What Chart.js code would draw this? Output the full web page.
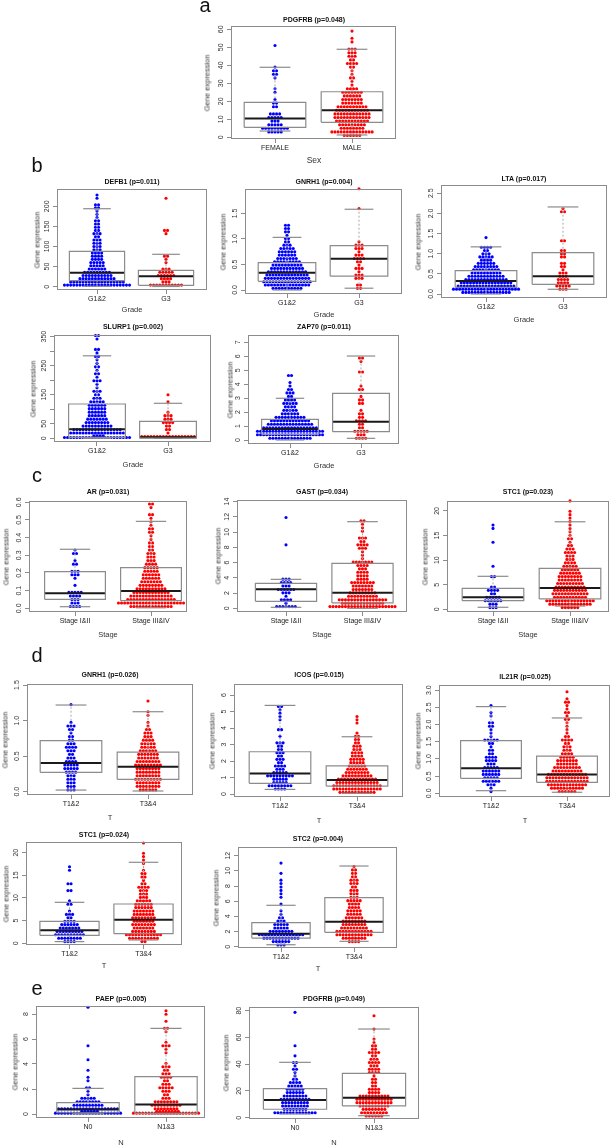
<!DOCTYPE html>
<html><head><meta charset="utf-8">
<script src="https://cdn.jsdelivr.net/npm/chart.js@4.4.1/dist/chart.umd.min.js"></script>
<style>
html,body{margin:0;padding:0;background:#fff;}
body{width:615px;height:1145px;position:relative;overflow:hidden;font-family:"Liberation Sans",Arial,sans-serif;}
canvas{position:absolute;}
.t{position:absolute;white-space:nowrap;line-height:1;transform:translate(-50%,-50%);color:#222;will-change:transform;-webkit-font-smoothing:antialiased;}
</style></head><body>
<script>
// ---------------- DATA ----------------
const SEX_CATS = ['FEMALE', 'MALE'];
const GRADE_CATS = ['G1&2', 'G3'];
const STAGE_CATS = ['Stage I&II', 'Stage III&IV'];
const T_CATS = ['T1&2', 'T3&4'];
const N_CATS = ['N0', 'N1&3'];

// counts of points per value bin (bin i covers [i*bin, (i+1)*bin)), read from the swarms
// stats = [lower whisker, Q1, median, Q3, upper whisker]
const PDGFRB_SEX_BIN = 2;
const PDGFRB_FEMALE = [0,5,9,5,3,5,4,0,2,2,1,0,1,1,0,0,1,2,2,1,0,0,0,0,0,1];
const PDGFRB_MALE = [6,14,8,9,11,12,12,11,10,7,7,6,7,4,1,1,2,1,1,2,4,2,3,3,3,0,1,1,0,1];
const PDGFRB_FEMALE_STATS = [3.5, 5.5, 10.5, 19.4, 38.9];
const PDGFRB_MALE_STATS = [1.3, 8.3, 15, 25.3, 48.9];
const PDGFRB_SEX_TICKS = [0,10,20,30,40,50,60];

const DEFB1_BIN = 8;
const DEFB1_G12 = [22,18,12,10,9,6,5,5,4,4,4,3,3,3,3,2,3,2,2,2,2,1,1,1,2,2,0,1,1];
const DEFB1_G3 = [11,3,4,6,5,3,0,1,1,2,0,0,0,0,0,0,1,2,0,0,0,0,0,0,0,0,0,1];
const DEFB1_G12_STATS = [1, 15, 34.8, 88, 194];
const DEFB1_G3_STATS = [0.5, 3.5, 25.9, 40.8, 80.6];
const DEFB1_TICKS = [0,50,100,150,200];

const GNRH1_GRADE_BIN = 0.065;
const GNRH1_G12 = [10,15,16,15,14,13,11,10,9,7,6,6,5,3,2,2,1,2,2,2];
const GNRH1_G3 = [2,2,0,3,3,1,3,1,2,4,3,1,3,3,1,0,0,0,0,0,0,0,0,0,1,0,0,0,0,0,1];
const GNRH1_G12_STATS = [0, 0.17, 0.34, 0.535, 1.03];
const GNRH1_G3_STATS = [0.035, 0.27, 0.61, 0.867, 1.58];
const GNRH1_GRADE_TICKS = [0,0.5,1,1.5];

const LTA_BIN = 0.08;
const LTA_G12 = [16,22,19,17,14,12,10,9,8,6,4,5,3,2,4,0,0,1];
const LTA_G3 = [0,3,5,4,4,3,3,1,2,2,0,2,2,2,0,0,2,0,0,0,0,0,0,0,0,2,1];
const LTA_G12_STATS = [0, 0.166, 0.32, 0.58, 1.17];
const LTA_G3_STATS = [0.117, 0.24, 0.44, 1.025, 2.16];
const LTA_TICKS = [0,0.5,1,1.5,2,2.5];

const SLURP1_BIN = 12;
const SLURP1_G12 = [26,18,16,10,8,7,6,6,6,6,5,3,2,3,1,1,3,1,2,1,2,1,1,2,1,2,0,0,1,2];
const SLURP1_G3 = [18,1,2,2,4,3,3,1,0,0,1,0,1];
const SLURP1_G12_STATS = [0, 3.4, 31, 118, 284];
const SLURP1_G3_STATS = [0, 0.5, 3.4, 58.5, 120.5];
const SLURP1_TICKS = [0,50,100,150,200,250,300,350];
const SLURP1_TICK_LABELS = [0,50,150,250,350];

const ZAP70_BIN = 0.25;
const ZAP70_G12 = [14,22,22,18,15,13,10,6,5,4,5,4,2,3,2,1,1,0,2];
const ZAP70_G3 = [4,3,5,2,2,4,2,2,1,0,2,2,1,0,2,1,0,0,0,2,0,0,1,2];
const ZAP70_G12_STATS = [0, 0.41, 0.79, 1.48, 2.99];
const ZAP70_G3_STATS = [0.12, 0.6, 1.31, 3.34, 6.02];
const ZAP70_TICKS = [0,1,2,3,4,5,6,7];

const AR_BIN = 0.02;
const AR_S12 = [4,3,3,4,5,0,1,0,1,3,3,0,2,1,0,2,1];
const AR_S34 = [14,22,16,14,12,10,8,7,6,6,5,5,4,3,3,3,2,2,2,1,1,2,2,1,1,1,2,0,1,2];
const AR_S12_STATS = [0.009, 0.051, 0.085, 0.207, 0.334];
const AR_S34_STATS = [0.003, 0.043, 0.098, 0.23, 0.492];
const AR_TICKS = [0,0.1,0.2,0.3,0.4,0.5,0.6];

const GAST_BIN = 0.45;
const GAST_S12 = [7,1,4,1,3,6,3,4,3,0,0,0,0,0,0,0,0,0,1,0,0,0,0,0,0,0,1];
const GAST_S34 = [22,14,16,10,9,7,7,8,4,4,4,3,4,7,1,1,1,3,4,2,3,0,1,1,1,2];
const GAST_S12_STATS = [0.13, 0.92, 2.49, 3.28, 3.8];
const GAST_S34_STATS = [0, 0.7, 2.05, 5.9, 11.37];
const GAST_TICKS = [0,2,4,6,8,10,12,14];

const STC1_STAGE_BIN = 0.7;
const STC1_S12 = [3,3,6,5,2,4,2,0,0,2,0,0,1,0,0,0,0,0,0,1,0,0,0,1,1];
const STC1_S34 = [6,14,16,11,12,11,10,9,8,8,7,6,5,4,3,3,4,3,2,1,2,1,1,1,1,1,1,1,1,0,0,1];
const STC1_S12_STATS = [0.41, 1.75, 2.44, 4.27, 6.71];
const STC1_S34_STATS = [0.67, 2.1, 4.33, 8.34, 17.8];
const STC1_STAGE_TICKS = [0,5,10,15,20];

const GNRH1_T_BIN = 0.05;
const GNRH1_T12 = [3,3,3,3,3,4,5,5,4,3,2,3,4,3,2,2,1,2,3,1,0,0,0,0,1];
const GNRH1_T34 = [6,8,8,9,8,8,8,9,8,7,7,6,5,5,4,3,3,2,1,1,0,1,1,0,0,1];
const GNRH1_T12_STATS = [0.023, 0.273, 0.404, 0.717, 1.219];
const GNRH1_T34_STATS = [0.01, 0.174, 0.352, 0.558, 1.125];
const GNRH1_T_TICKS = [0,0.5,1,1.5];

const ICOS_BIN = 0.2;
const ICOS_T12 = [0,4,8,5,5,9,5,3,4,2,3,2,3,2,2,3,0,1,0,2,0,0,1,1,1,1,2];
const ICOS_T34 = [12,16,16,14,13,10,8,7,6,5,5,4,4,3,3,2,2,2,1,0,0,1,1,1];
const ICOS_T12_STATS = [0.28, 0.65, 1.25, 2.56, 5.37];
const ICOS_T34_STATS = [0.04, 0.48, 0.85, 1.7, 3.47];
const ICOS_TICKS = [0,1,2,3,4,5,6];

const IL21R_BIN = 0.1;
const IL21R_T12 = [1,1,3,6,5,6,6,5,3,4,4,2,2,1,2,5,1,1,1,2,2,0,1,1,0,1];
const IL21R_T34 = [6,11,13,14,14,13,10,9,7,7,5,4,3,3,2,4,2,1,1,1,1,2,1,2,1,1,2,1,0,1];
const IL21R_T12_STATS = [0.076, 0.436, 0.726, 1.53, 2.52];
const IL21R_T34_STATS = [0.03, 0.32, 0.55, 1.08, 2.19];
const IL21R_TICKS = [0,0.5,1,1.5,2,2.5,3];

const STC1_T_BIN = 0.75;
const STC1_T12 = [4,8,10,9,7,6,4,2,3,1,0,2,1,0,0,2,0,2,0,0,0,1,1];
const STC1_T34 = [2,10,12,8,7,8,7,8,7,7,6,6,5,3,3,3,4,2,1,2,2,1,0,1,1,1,1,0,0,1];
const STC1_T12_STATS = [0.37, 1.76, 2.87, 4.85, 9.04];
const STC1_T34_STATS = [0.73, 2.12, 5.2, 8.67, 17.87];
const STC1_T_TICKS = [0,5,10,15,20];

const STC2_BIN = 0.45;
const STC2_T12 = [3,6,12,15,8,5,5,3,2,1,1,0,1,0,1,1,1,1,1,1,0,1,0,0,1];
const STC2_T34 = [0,4,8,12,12,9,8,8,6,5,5,4,4,5,3,3,3,2,3,3,2,2,2,1];
const STC2_T12_STATS = [0.26, 1.14, 1.72, 3.17, 5.46];
const STC2_T34_STATS = [0.71, 1.9, 3.3, 6.46, 10.64];
const STC2_TICKS = [0,2,4,6,8,10,12];

const PAEP_BIN = 0.28;
const PAEP_N0 = [28,20,10,8,5,1,1,2,0,1,1,0,1,0,0,1,0,0,0,1,0,0,0,0,0,0,0,0,0,0,1];
const PAEP_N13 = [30,8,10,8,3,2,3,5,3,2,4,3,2,3,1,0,0,1,1,3,1,0,0,1,2,0,1,0,1,1];
const PAEP_N0_STATS = [0.02, 0.1, 0.37, 0.91, 2.05];
const PAEP_N13_STATS = [0.01, 0.05, 0.77, 2.99, 6.85];
const PAEP_TICKS = [0,2,4,6,8];

const PDGFRB_N_BIN = 2.5;
const PDGFRB_N0 = [0,14,8,9,9,10,8,6,6,5,4,2,1,1,2,1,2,0,1,0,0,1,0,0,0,0,0,0,0,0,0,1];
const PDGFRB_N13 = [6,9,8,10,12,12,10,4,4,2,2,2,1,4,4,3,4,3,2,4,2,2,1,1,0,0,1,0,0,0,1];
const PDGFRB_N0_STATS = [2.8, 6.3, 13.2, 21.7, 41.4];
const PDGFRB_N13_STATS = [1.5, 8.8, 15, 33.2, 66.3];
const PDGFRB_N_TICKS = [0,20,40,60,80];

// ---------------- PANELS (content + layout in page pixels) ----------------
const PANELS = [
 {title:'PDGFRB (p=0.048)', cats:SEX_CATS, xTitle:'Sex', bin:PDGFRB_SEX_BIN, counts:[PDGFRB_FEMALE,PDGFRB_MALE], stats:[PDGFRB_FEMALE_STATS,PDGFRB_MALE_STATS], ticks:PDGFRB_SEX_TICKS, dec:0,
  L:231,T:26,R:396,B:139,c1:275,c2:352,y0:137.3,ppu:1.8,tx:313.5,ty:18.5,ylx:207,xty:159.5,xts:8.5},
 {title:'DEFB1 (p=0.011)', cats:GRADE_CATS, xTitle:'Grade', bin:DEFB1_BIN, counts:[DEFB1_G12,DEFB1_G3], stats:[DEFB1_G12_STATS,DEFB1_G3_STATS], ticks:DEFB1_TICKS, dec:0,
  L:57,T:189,R:207,B:290,c1:97,c2:166,y0:286.7,ppu:0.402,tx:132,ty:181,ylx:37,xty:309},
 {title:'GNRH1 (p=0.004)', cats:GRADE_CATS, xTitle:'Grade', bin:GNRH1_GRADE_BIN, counts:[GNRH1_G12,GNRH1_G3], stats:[GNRH1_G12_STATS,GNRH1_G3_STATS], ticks:GNRH1_GRADE_TICKS, dec:1,
  L:245,T:189,R:402,B:294,c1:287,c2:359,y0:290,ppu:51.1,tx:323.5,ty:181,ylx:223,xty:314},
 {title:'LTA (p=0.017)', cats:GRADE_CATS, xTitle:'Grade', bin:LTA_BIN, counts:[LTA_G12,LTA_G3], stats:[LTA_G12_STATS,LTA_G3_STATS], ticks:LTA_TICKS, dec:1,
  L:441,T:185,R:607,B:298,c1:486,c2:563,y0:294,ppu:40.3,tx:524,ty:177.5,ylx:418,xty:319},
 {title:'SLURP1 (p=0.002)', cats:GRADE_CATS, xTitle:'Grade', bin:SLURP1_BIN, counts:[SLURP1_G12,SLURP1_G3], stats:[SLURP1_G12_STATS,SLURP1_G3_STATS], ticks:SLURP1_TICKS, labels:SLURP1_TICK_LABELS, dec:0,
  L:54,T:335,R:211,B:442,c1:97,c2:168,y0:438.3,ppu:0.2905,tx:132.5,ty:325.7,ylx:33,xty:463.7},
 {title:'ZAP70 (p=0.011)', cats:GRADE_CATS, xTitle:'Grade', bin:ZAP70_BIN, counts:[ZAP70_G12,ZAP70_G3], stats:[ZAP70_G12_STATS,ZAP70_G3_STATS], ticks:ZAP70_TICKS, dec:0,
  L:248,T:335,R:399,B:444,c1:290,c2:361,y0:440,ppu:13.95,tx:323.5,ty:325.7,ylx:230,xty:465},
 {title:'AR (p=0.031)', cats:STAGE_CATS, xTitle:'Stage', bin:AR_BIN, counts:[AR_S12,AR_S34], stats:[AR_S12_STATS,AR_S34_STATS], ticks:AR_TICKS, dec:1,
  L:29,T:501,R:187,B:612,c1:75,c2:151,y0:608.3,ppu:176.7,tx:108,ty:491,ylx:6,xty:634},
 {title:'GAST (p=0.034)', cats:STAGE_CATS, xTitle:'Stage', bin:GAST_BIN, counts:[GAST_S12,GAST_S34], stats:[GAST_S12_STATS,GAST_S34_STATS], ticks:GAST_TICKS, dec:0,
  L:237,T:500,R:407,B:612,c1:286,c2:362.5,y0:608.3,ppu:7.62,tx:322,ty:491,ylx:218,xty:634},
 {title:'STC1 (p=0.023)', cats:STAGE_CATS, xTitle:'Stage', bin:STC1_STAGE_BIN, counts:[STC1_S12,STC1_S34], stats:[STC1_S12_STATS,STC1_S34_STATS], ticks:STC1_STAGE_TICKS, dec:0,
  L:447,T:501,R:609,B:612,c1:493,c2:570,y0:609.3,ppu:4.917,tx:528,ty:491,ylx:425,xty:634},
 {title:'GNRH1 (p=0.026)', cats:T_CATS, xTitle:'T', bin:GNRH1_T_BIN, counts:[GNRH1_T12,GNRH1_T34], stats:[GNRH1_T12_STATS,GNRH1_T34_STATS], ticks:GNRH1_T_TICKS, dec:1,
  L:27,T:684,R:193,B:795,c1:71,c2:148,y0:791.7,ppu:71.1,tx:110,ty:674,ylx:4.5,xty:817},
 {title:'ICOS (p=0.015)', cats:T_CATS, xTitle:'T', bin:ICOS_BIN, counts:[ICOS_T12,ICOS_T34], stats:[ICOS_T12_STATS,ICOS_T34_STATS], ticks:ICOS_TICKS, dec:0,
  L:234,T:684,R:403,B:797,c1:280,c2:357,y0:794,ppu:16.5,tx:318.5,ty:674,ylx:212,xty:820},
 {title:'IL21R (p=0.025)', cats:T_CATS, xTitle:'T', bin:IL21R_BIN, counts:[IL21R_T12,IL21R_T34], stats:[IL21R_T12_STATS,IL21R_T34_STATS], ticks:IL21R_TICKS, dec:1,
  L:439,T:685,R:610,B:797,c1:491,c2:567,y0:793.3,ppu:34.4,tx:524.5,ty:676,ylx:418,xty:820},
 {title:'STC1 (p=0.024)', cats:T_CATS, xTitle:'T', bin:STC1_T_BIN, counts:[STC1_T12,STC1_T34], stats:[STC1_T12_STATS,STC1_T34_STATS], ticks:STC1_T_TICKS, dec:0,
  L:26,T:842,R:182,B:945,c1:69.5,c2:143.5,y0:943.3,ppu:4.533,tx:104,ty:834,ylx:6,xty:965},
 {title:'STC2 (p=0.004)', cats:T_CATS, xTitle:'T', bin:STC2_BIN, counts:[STC2_T12,STC2_T34], stats:[STC2_T12_STATS,STC2_T34_STATS], ticks:STC2_TICKS, dec:0,
  L:238,T:847,R:397,B:948,c1:281,c2:354,y0:946.7,ppu:7.583,tx:317.5,ty:837.5,ylx:216,xty:967.5},
 {title:'PAEP (p=0.005)', cats:N_CATS, xTitle:'N', bin:PAEP_BIN, counts:[PAEP_N0,PAEP_N13], stats:[PAEP_N0_STATS,PAEP_N13_STATS], ticks:PAEP_TICKS, dec:0,
  L:36,T:1006,R:205,B:1118,c1:88,c2:166,y0:1114,ppu:12.5,tx:120.5,ty:997.5,ylx:15,xty:1141.5},
 {title:'PDGFRB (p=0.049)', cats:N_CATS, xTitle:'N', bin:PDGFRB_N_BIN, counts:[PDGFRB_N0,PDGFRB_N13], stats:[PDGFRB_N0_STATS,PDGFRB_N13_STATS], ticks:PDGFRB_N_TICKS, dec:0,
  L:249,T:1007,R:419,B:1119,c1:295,c2:374,y0:1117.7,ppu:1.3375,tx:334,ty:997.5,ylx:226,xty:1141.5}
];

const LETTERS = [['a',205,4.5],['b',36.7,165],['c',36.7,475],['d',36.7,655],['e',36.7,988]];

// ---------------- RENDER ----------------
const FONT = '"Liberation Sans", Arial, sans-serif';
const COLORS = ['#0000FF', '#FF0000'];
const GRAY = '#8c8c8c', MED = '#1a1a1a', WHISK = '#a8a8a8';
const YW = 16, XH = 16, PT = 4, PR = 4, MAX_ROW = 22, DOT_PX = 3.1;

function txt(s, x, y, css, rot) {
  const d = document.createElement('div');
  d.className = 't';
  d.textContent = s;
  d.style.cssText += css;
  d.style.left = x + 'px';
  d.style.top = y + 'px';
  if (rot) d.style.transform = 'translate(-50%,-50%) rotate(-90deg)';
  document.body.appendChild(d);
}

function swarm(counts, bin, center, dx) {
  const pts = [];
  counts.forEach((n, i) => {
    if (!n) return;
    const yc = (i + 0.5) * bin;
    const rows = [];
    let left = n;
    while (left > 0) { const k = Math.min(left, MAX_ROW); rows.push(k); left -= k; }
    rows.forEach((k, r) => {
      const y = rows.length > 1 ? yc + bin * 0.5 * (r / (rows.length - 1) - 0.5) : yc;
      const shift = (r % 2) ? 0.5 : 0;
      for (let j = 0; j < k; j++) pts.push({x: center + (j - (k - 1) / 2 + shift) * dx, y});
    });
  });
  return pts;
}

function seg(points, color, width, dash) {
  return {type:'scatter', showLine:true, data: points.map(([x, y]) => ({x, y})), borderColor: color,
    borderWidth: width, borderDash: dash || [], pointRadius: 0, fill: false, tension: 0, order: 1, clip: false};
}

function makePanel(P) {
  const W = P.R - P.L + YW + PR, H = P.B - P.T + PT + XH;
  const c = document.createElement('canvas');
  c.width = W; c.height = H;
  c.style.left = (P.L - YW) + 'px'; c.style.top = (P.T - PT) + 'px';
  c.style.width = W + 'px'; c.style.height = H + 'px';
  document.body.appendChild(c);

  const unitPx = P.c2 - P.c1;
  const xMin = 1 - (P.c1 - P.L) / unitPx, xMax = 2 + (P.R - P.c2) / unitPx;
  const yMin = -(P.B - P.y0) / P.ppu, yMax = (P.y0 - P.T) / P.ppu;
  const bh = 0.4, ch = 0.2;
  const datasets = [];
  [0, 1].forEach(g => {
    const cx = g + 1;
    const [lo, q1, med, q3, hi] = P.stats[g];
    datasets.push(seg([[cx-bh,q1],[cx+bh,q1],[cx+bh,q3],[cx-bh,q3],[cx-bh,q1]], GRAY, 1.2));
    datasets.push(seg([[cx-bh,med],[cx+bh,med]], MED, 2));
    datasets.push(seg([[cx,q3],[cx,hi]], WHISK, 1, [2,2]));
    datasets.push(seg([[cx,lo],[cx,q1]], WHISK, 1, [2,2]));
    datasets.push(seg([[cx-ch,hi],[cx+ch,hi]], GRAY, 1.2));
    datasets.push(seg([[cx-ch,lo],[cx+ch,lo]], GRAY, 1.2));
    datasets.push({type:'scatter', data: swarm(P.counts[g], P.bin, cx, DOT_PX / unitPx),
      pointRadius: 1.55, pointBackgroundColor: COLORS[g], pointBorderWidth: 0, borderWidth: 0, order: 2, clip: false});
  });

  const labelVals = P.labels || P.ticks;
  const framePlugin = {
    id: 'rframe',
    afterDraw(chart) {
      const a = chart.chartArea, ctx = chart.ctx, ys = chart.scales.y;
      ctx.save();
      ctx.strokeStyle = GRAY; ctx.lineWidth = 1;
      ctx.strokeRect(a.left + 0.5, a.top + 0.5, a.right - a.left - 1, a.bottom - a.top - 1);
      ctx.fillStyle = '#333';
      ctx.font = '7px ' + FONT;
      ctx.textAlign = 'center'; ctx.textBaseline = 'middle';
      labelVals.forEach(v => {
        const y = ys.getPixelForValue(v);
        ctx.save();
        ctx.translate(a.left - 9.5, y);
        ctx.rotate(-Math.PI / 2);
        ctx.fillText(v.toFixed(P.dec), 0, 0);
        ctx.restore();
      });
      ctx.restore();
    }
  };

  new Chart(c, {
    type: 'scatter',
    data: {datasets},
    options: {
      responsive: false, animation: false, events: [],
      layout: {padding: {left: 0, top: PT, right: PR, bottom: 0}},
      plugins: {legend: {display: false}, tooltip: {enabled: false}, title: {display: false}},
      scales: {
        x: {type: 'linear', min: xMin, max: xMax,
          afterBuildTicks: s => { s.ticks = [{value: 1}, {value: 2}]; },
          ticks: {callback: v => P.cats[Math.round(v) - 1], font: {size: 7, family: FONT}, color: '#222',
            padding: 1, maxRotation: 0, minRotation: 0, autoSkip: false},
          grid: {drawOnChartArea: false, drawTicks: true, tickLength: 4, color: GRAY},
          border: {display: false},
          afterFit: s => { s.height = XH; }},
        y: {type: 'linear', min: yMin, max: yMax,
          afterBuildTicks: s => { s.ticks = P.ticks.map(v => ({value: v})); },
          ticks: {display: false},
          grid: {drawOnChartArea: false, drawTicks: true, tickLength: 4, color: GRAY},
          border: {display: false},
          afterFit: s => { s.width = YW; }}
      }
    },
    plugins: [framePlugin]
  });

  txt(P.title, P.tx, P.ty, 'font:bold 7px ' + FONT + ';color:#111;');
  txt('Gene expression', P.ylx, (P.T + P.B) / 2, 'font:7.5px ' + FONT + ';color:#333;', true);
  txt(P.xTitle, P.tx, P.xty, 'font:' + (P.xts || 7.5) + 'px ' + FONT + ';color:#333;');
}

PANELS.forEach(makePanel);
LETTERS.forEach(([s, x, y]) => txt(s, x, y, 'font:20px ' + FONT + ';color:#111;'));
</script>
</body></html>
